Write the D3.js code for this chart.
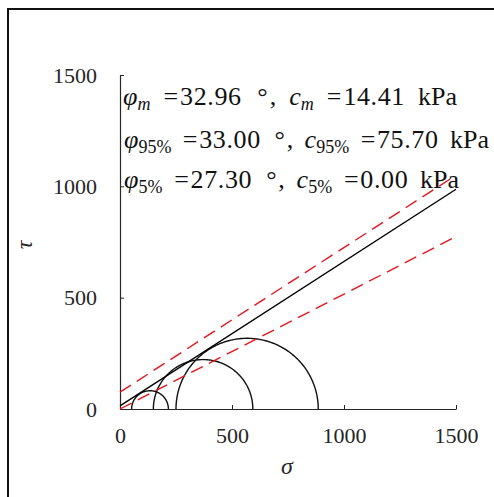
<!DOCTYPE html>
<html>
<head>
<meta charset="utf-8">
<script src="https://cdn.jsdelivr.net/npm/d3@7"></script>
<style>
html,body{margin:0;padding:0;background:#fff;}
svg{display:block;}
</style>
</head>
<body>
<svg id="chart" width="494" height="497"></svg>
<script>
// ---- data ----
const sigmaTicks = [0, 500, 1000, 1500];
const tauTicks = [0, 500, 1000, 1500];
const circleSigma3 = [52, 149, 250];
const circleSigma1 = [216, 593, 885];
const envKeys = ["m", "95%", "5%"];
const envPhi = [32.96, 33.00, 27.30];
const envC = [14.41, 75.70, 0.00];
const envColor = ["#000000", "#e8141b", "#e8141b"];
const envDash = [null, "13,7", "13,7"];
const xLabel = "σ";
const yLabel = "τ";

// ---- layout ----
const svg = d3.select("#chart");
const x = d3.scaleLinear().domain([0, 1500]).range([120, 456]);
const y = d3.scaleLinear().domain([0, 1500]).range([409, 75]);

// outer frame (only top & left visible)
svg.append("rect").attr("x", 8).attr("y", 9).attr("width", 600).attr("height", 600)
  .attr("fill", "none").attr("stroke", "#111").attr("stroke-width", 2);

const tickFont = "'Liberation Serif', 'Times New Roman', serif";

// axes
const xAxis = d3.axisBottom(x).tickValues(sigmaTicks).tickSizeInner(-4).tickSizeOuter(0).tickPadding(18).tickFormat(d3.format("d"));
const yAxis = d3.axisLeft(y).tickValues(tauTicks).tickSizeInner(-4).tickSizeOuter(0).tickPadding(23).tickFormat(d3.format("d"));

const gx = svg.append("g").attr("transform", `translate(0,${y(0)})`).call(xAxis);
const gy = svg.append("g").attr("transform", `translate(${x(0)},0)`).call(yAxis);
[gx, gy].forEach(g => {
  g.select(".domain").attr("stroke", "#262626").attr("stroke-width", 1.2);
  g.selectAll(".tick line").attr("stroke", "#262626").attr("stroke-width", 1);
  g.selectAll(".tick text").attr("fill", "#262626").style("font-family", tickFont).style("font-size", "22px");
});

// Mohr circles (upper halves)
const angles = d3.range(0, 181, 1).map(a => a * Math.PI / 180);
const lineGen = d3.line().x(p => x(p[0])).y(p => y(p[1]));
circleSigma3.forEach((s3, i) => {
  const s1 = circleSigma1[i];
  const c = (s1 + s3) / 2, r = (s1 - s3) / 2;
  const pts = angles.map(t => [c + r * Math.cos(t), r * Math.sin(t)]);
  svg.append("path").attr("d", lineGen(pts)).attr("fill", "none")
    .attr("stroke", "#111").attr("stroke-width", 1.4);
});

// failure envelopes
envPhi.forEach((phi, i) => {
  const t = Math.tan(phi * Math.PI / 180);
  const pts = [[0, envC[i]], [1500, envC[i] + 1500 * t]];
  const p = svg.append("path").attr("d", lineGen(pts)).attr("fill", "none")
    .attr("stroke", envColor[i]).attr("stroke-width", 1.4);
  if (envDash[i]) p.attr("stroke-dasharray", envDash[i]);
});

// annotation text: segments flowed with LaTeX-like spacing, stretched to the line width
const textFont = "'Liberation Serif', 'DejaVu Serif', serif";
const baselines = [105, 148, 188];
const lineStart = [123, 124, 124];
const lineEnd = [457, 489, 459];
const gapWeights = [1, 0.15, 1.2, 0.15, 1, 1, 0.15, 1];
envKeys.forEach((k, i) => {
  const g = svg.append("g").style("font-family", textFont).style("font-size", "26px").attr("fill", "#111");
  const subItalic = (k === "m");
  const segs = [];
  const sym = (s) => {
    const t = g.append("text").attr("y", baselines[i]);
    t.append("tspan").style("font-style", "italic").text(s);
    t.append("tspan").attr("dy", 5).style("font-size", "18px")
      .style("font-style", subItalic ? "italic" : "normal").text(k);
    segs.push(t);
  };
  const plain = (s, ls) => {
    const t = g.append("text").attr("y", baselines[i]).text(s);
    if (ls) t.style("letter-spacing", ls);
    segs.push(t);
  };
  sym("φ"); plain("="); plain(envPhi[i].toFixed(2), "0.6px"); plain("°"); plain(",");
  sym("c"); plain("="); plain(envC[i].toFixed(2), "0.6px"); plain("kPa");
  const widths = segs.map(s => s.node().getComputedTextLength());
  const total = d3.sum(widths);
  const unit = Math.max(0, (lineEnd[i] - lineStart[i] - total) / d3.sum(gapWeights));
  let cx = lineStart[i];
  segs.forEach((s, j) => {
    s.attr("x", cx);
    cx += widths[j] + (j < gapWeights.length ? gapWeights[j] * unit : 0);
  });
});

// axis labels
svg.append("text").attr("x", 287).attr("y", 474).attr("text-anchor", "middle")
  .style("font-family", tickFont).style("font-style", "italic").style("font-size", "24px")
  .attr("fill", "#262626").text(xLabel);
svg.append("text").attr("transform", "translate(32,245) rotate(-90)").attr("text-anchor", "middle")
  .style("font-family", tickFont).style("font-style", "italic").style("font-size", "24px")
  .attr("fill", "#262626").text(yLabel);
</script>
</body>
</html>
